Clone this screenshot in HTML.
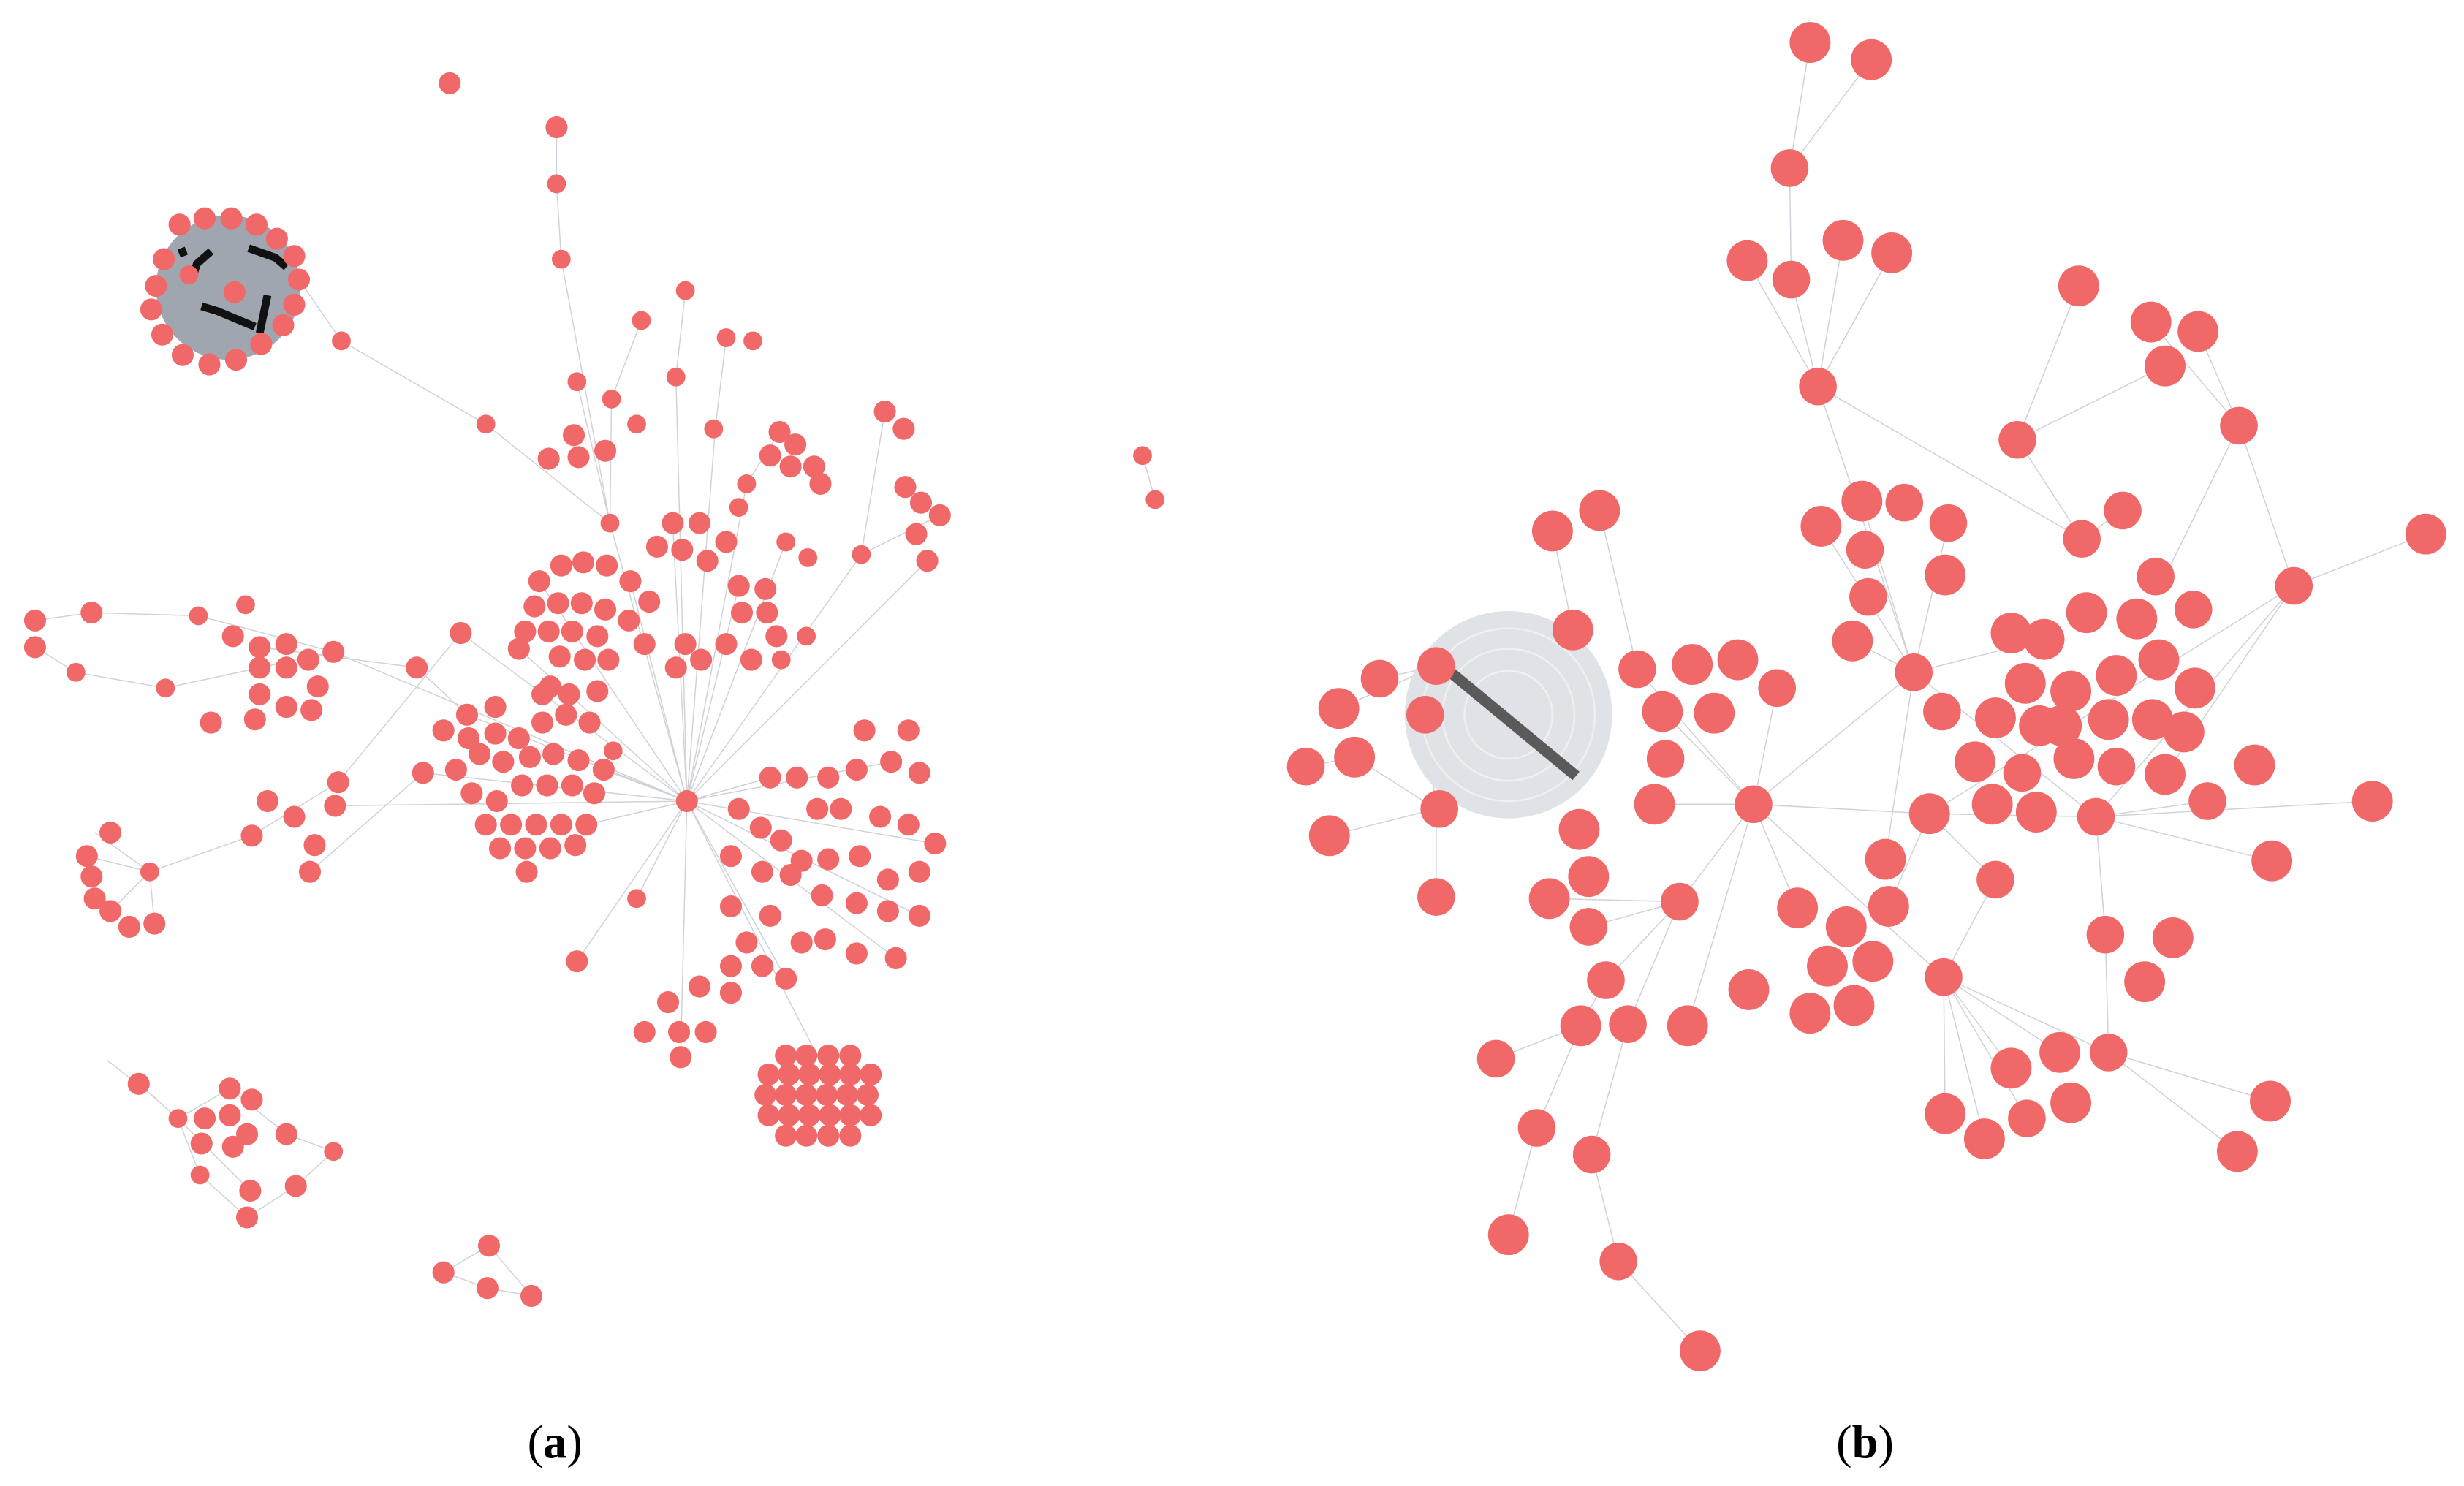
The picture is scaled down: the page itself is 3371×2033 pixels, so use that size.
<!DOCTYPE html>
<html><head><meta charset="utf-8"><style>
html,body{margin:0;padding:0;background:#fff;}
svg{display:block;}
</style></head><body>
<svg width="3371" height="2033" viewBox="0 0 1568 946" xmlns="http://www.w3.org/2000/svg">
<g stroke="#cfd2d8" stroke-width="0.7" fill="none">
<path d="M437,510 L388,333 M437,510 L343,370 M437,510 L401,370 M437,510 L428,333 M437,510 L470,373 M437,510 L500,345 M437,510 L548,353 M437,510 L590,357 M437,510 L297,455 M437,510 L269,492 M437,510 L212,415 M437,510 L213,513 M437,510 L490,495 M437,510 L567,485 M437,510 L595,537 M437,510 L585,583 M437,510 L570,610 M437,510 L520,672 M437,510 L500,623 M437,510 L433,673 M437,510 L405,572 M437,510 L367,612 M437,510 L330,413 M437,510 L293,403 M437,510 L384,490 M437,510 L373,525"/>
<path d="M354,81 L354,117 L357,165 L388,333 M217,217 L309,270 L388,333 M436,185 L430,240 L437,510 M408,204 L389,254 L388,333 M462,215 L455,273 L437,510 M563,262 L548,353 M598,328 L548,353 M496,275 L475,308 L437,510 M367,243 L388,333 M190,178 L217,217"/>
<path d="M22,395 L58,390 L126,392 L212,415 M22,412 L48,428 L105,438 L212,415 M60,530 L95,555 L160,532 L215,498 L293,403 M95,555 L55,545 M95,555 L98,588 M95,555 L70,580 M165,412 L265,425 L297,455 M197,555 L269,492"/>
<path d="M88,690 L113,712 L146,693 L182,722 L212,733 M113,712 L127,748 L157,775 L188,755 L212,733 M113,712 L159,758 M68,675 L100,700 M311,793 L282,810 L310,820 L338,825 L311,793 M727,290 L735,318"/>
<path d="M1152,27 L1139,107 M1191,38 L1139,107 L1140,178 L1157,246 M1112,166 L1157,246 M1173,153 L1157,246 M1204,161 L1157,246 L1218,428 M1157,246 L1325,343 M1323,182 L1284,280 L1325,343 M1369,205 L1425,271 M1399,211 L1425,271 L1378,367 M1378,233 L1284,280 M1425,271 L1460,373 M1544,340 L1460,373 L1334,520 M1460,373 L1378,493 M1460,373 L1228,518"/>
<path d="M1218,428 L1116,512 L1069,574 L1022,624 L1006,653 L978,718 L960,786 M1069,574 L1036,652 L1013,735 L1030,803 L1082,860 M1116,512 L1058,453 M1116,512 L1053,512 M1116,512 L1228,518 L1334,520 M1116,512 L1144,578 M1116,512 L1237,622 M1116,512 L1042,426 M1218,428 L1159,335 M1218,428 L1185,319 M1218,428 L1240,333 M1218,428 L1179,408 M1218,428 L1334,520 M1218,428 L1301,407 M1237,622 L1270,560 L1228,518 M1237,622 L1311,670 M1237,622 L1280,680 M1237,622 L1238,709 M1237,622 L1263,725 M1237,622 L1290,712 M1237,622 L1342,670 M1334,520 L1340,595 L1342,670 L1424,733 M1342,670 L1445,701 M1334,520 L1446,548 M1334,520 L1510,510 M1334,520 L1405,510 M1228,518 L1202,577 M1069,574 L1011,590 M1069,574 L986,572 M952,674 L1006,653 M1116,512 L1074,653 M1218,428 L1200,547 M1325,343 L1351,325 M1116,512 L1131,438"/>
<path d="M914,424 L878,432 M914,424 L907,455 L914,515 M914,515 L862,482 M914,515 L846,532 M914,515 L914,571 M914,424 L852,451 M831,488 L862,482 M988,338 L1001,401 M1018,325 L1042,426"/>
</g>
<circle cx="145" cy="183" r="46" fill="#a0a6b0"/>
<path d="M117,163 L115,158 M134,160 L125,168 L122,178 M158,158 L175,164 L182,170 M128,195 L138,198 L162,208 M170,188 L165,212" stroke="#111" stroke-width="5" fill="none"/>
<circle cx="960" cy="455" r="66" fill="#dfe2e6"/>
<g fill="none" stroke="#eef0f2" stroke-width="1.2"><circle cx="960" cy="455" r="55"/><circle cx="960" cy="455" r="42"/><circle cx="960" cy="455" r="28"/></g>
<path d="M922,427 L1003,494" stroke="#5a5a5a" stroke-width="7"/>
<g fill="#f06868">
<circle cx="286" cy="53" r="7"/><circle cx="354" cy="81" r="7"/><circle cx="354" cy="117" r="6"/><circle cx="357" cy="165" r="6"/>
<circle cx="114" cy="143" r="7"/><circle cx="130" cy="139" r="7"/><circle cx="147" cy="139" r="7"/><circle cx="163" cy="143" r="7"/><circle cx="176" cy="152" r="7"/><circle cx="187" cy="163" r="7"/><circle cx="190" cy="178" r="7"/><circle cx="187" cy="194" r="7"/><circle cx="180" cy="207" r="7"/><circle cx="166" cy="219" r="7"/><circle cx="150" cy="229" r="7"/><circle cx="133" cy="232" r="7"/><circle cx="116" cy="226" r="7"/><circle cx="103" cy="213" r="7"/><circle cx="96" cy="197" r="7"/><circle cx="99" cy="182" r="7"/><circle cx="104" cy="165" r="7"/><circle cx="149" cy="186" r="7"/><circle cx="120" cy="175" r="6"/>
<circle cx="217" cy="217" r="6"/><circle cx="309" cy="270" r="6"/><circle cx="436" cy="185" r="6"/><circle cx="408" cy="204" r="6"/><circle cx="462" cy="215" r="6"/><circle cx="479" cy="217" r="6"/><circle cx="367" cy="243" r="6"/><circle cx="389" cy="254" r="6"/><circle cx="405" cy="270" r="6"/><circle cx="430" cy="240" r="6"/><circle cx="454" cy="273" r="6"/><circle cx="365" cy="277" r="7"/><circle cx="349" cy="292" r="7"/><circle cx="368" cy="291" r="7"/><circle cx="385" cy="287" r="7"/><circle cx="496" cy="275" r="7"/><circle cx="506" cy="283" r="7"/><circle cx="490" cy="290" r="7"/><circle cx="503" cy="297" r="7"/><circle cx="518" cy="297" r="7"/><circle cx="522" cy="308" r="7"/><circle cx="563" cy="262" r="7"/><circle cx="575" cy="273" r="7"/><circle cx="576" cy="310" r="7"/><circle cx="586" cy="320" r="7"/><circle cx="583" cy="340" r="7"/><circle cx="598" cy="328" r="7"/><circle cx="590" cy="357" r="7"/><circle cx="548" cy="353" r="6"/><circle cx="475" cy="308" r="6"/><circle cx="470" cy="323" r="6"/><circle cx="388" cy="333" r="6"/>
<circle cx="343" cy="370" r="7"/><circle cx="357" cy="360" r="7"/><circle cx="371" cy="358" r="7"/><circle cx="386" cy="360" r="7"/><circle cx="401" cy="370" r="7"/><circle cx="413" cy="383" r="7"/><circle cx="340" cy="386" r="7"/><circle cx="355" cy="384" r="7"/><circle cx="370" cy="384" r="7"/><circle cx="385" cy="388" r="7"/><circle cx="400" cy="395" r="7"/><circle cx="334" cy="402" r="7"/><circle cx="349" cy="402" r="7"/><circle cx="364" cy="402" r="7"/><circle cx="380" cy="405" r="7"/><circle cx="356" cy="418" r="7"/><circle cx="372" cy="420" r="7"/><circle cx="387" cy="420" r="7"/><circle cx="350" cy="437" r="7"/><circle cx="330" cy="413" r="7"/><circle cx="410" cy="410" r="7"/>
<circle cx="428" cy="333" r="7"/><circle cx="445" cy="333" r="7"/><circle cx="462" cy="345" r="7"/><circle cx="418" cy="348" r="7"/><circle cx="434" cy="350" r="7"/><circle cx="450" cy="357" r="7"/><circle cx="470" cy="373" r="7"/><circle cx="487" cy="375" r="7"/><circle cx="472" cy="390" r="7"/><circle cx="488" cy="390" r="7"/><circle cx="494" cy="405" r="7"/><circle cx="478" cy="420" r="7"/><circle cx="462" cy="410" r="7"/><circle cx="436" cy="410" r="7"/><circle cx="430" cy="425" r="7"/><circle cx="446" cy="420" r="7"/><circle cx="500" cy="345" r="6"/><circle cx="514" cy="355" r="6"/><circle cx="513" cy="405" r="6"/><circle cx="497" cy="420" r="6"/>
<circle cx="297" cy="455" r="7"/><circle cx="315" cy="450" r="7"/><circle cx="282" cy="465" r="7"/><circle cx="298" cy="470" r="7"/><circle cx="315" cy="467" r="7"/><circle cx="330" cy="470" r="7"/><circle cx="345" cy="460" r="7"/><circle cx="360" cy="455" r="7"/><circle cx="375" cy="460" r="7"/><circle cx="345" cy="442" r="7"/><circle cx="362" cy="442" r="7"/><circle cx="380" cy="440" r="7"/><circle cx="269" cy="492" r="7"/><circle cx="290" cy="490" r="7"/><circle cx="305" cy="480" r="7"/><circle cx="320" cy="485" r="7"/><circle cx="337" cy="482" r="7"/><circle cx="352" cy="480" r="7"/><circle cx="368" cy="484" r="7"/><circle cx="384" cy="490" r="7"/><circle cx="300" cy="505" r="7"/><circle cx="316" cy="510" r="7"/><circle cx="332" cy="500" r="7"/><circle cx="348" cy="500" r="7"/><circle cx="364" cy="500" r="7"/><circle cx="378" cy="505" r="7"/><circle cx="309" cy="525" r="7"/><circle cx="325" cy="525" r="7"/><circle cx="341" cy="525" r="7"/><circle cx="357" cy="525" r="7"/><circle cx="373" cy="525" r="7"/><circle cx="318" cy="540" r="7"/><circle cx="334" cy="540" r="7"/><circle cx="350" cy="540" r="7"/><circle cx="366" cy="538" r="7"/><circle cx="335" cy="555" r="7"/><circle cx="390" cy="478" r="6"/>
<circle cx="437" cy="510" r="7"/>
<circle cx="490" cy="495" r="7"/><circle cx="507" cy="495" r="7"/><circle cx="527" cy="495" r="7"/><circle cx="545" cy="490" r="7"/><circle cx="567" cy="485" r="7"/><circle cx="585" cy="492" r="7"/><circle cx="550" cy="465" r="7"/><circle cx="578" cy="465" r="7"/><circle cx="520" cy="515" r="7"/><circle cx="535" cy="515" r="7"/><circle cx="560" cy="520" r="7"/><circle cx="578" cy="525" r="7"/><circle cx="595" cy="537" r="7"/><circle cx="470" cy="515" r="7"/><circle cx="484" cy="527" r="7"/><circle cx="497" cy="535" r="7"/><circle cx="510" cy="548" r="7"/><circle cx="527" cy="547" r="7"/><circle cx="547" cy="545" r="7"/><circle cx="565" cy="560" r="7"/><circle cx="585" cy="555" r="7"/><circle cx="465" cy="545" r="7"/><circle cx="485" cy="555" r="7"/><circle cx="503" cy="557" r="7"/><circle cx="523" cy="570" r="7"/><circle cx="545" cy="575" r="7"/><circle cx="565" cy="580" r="7"/><circle cx="585" cy="583" r="7"/><circle cx="465" cy="577" r="7"/><circle cx="490" cy="583" r="7"/><circle cx="510" cy="600" r="7"/><circle cx="525" cy="598" r="7"/><circle cx="545" cy="607" r="7"/><circle cx="570" cy="610" r="7"/><circle cx="475" cy="600" r="7"/><circle cx="465" cy="615" r="7"/><circle cx="485" cy="615" r="7"/><circle cx="500" cy="623" r="7"/><circle cx="465" cy="632" r="7"/><circle cx="445" cy="628" r="7"/><circle cx="425" cy="638" r="7"/><circle cx="410" cy="657" r="7"/><circle cx="432" cy="657" r="7"/><circle cx="449" cy="657" r="7"/><circle cx="433" cy="673" r="7"/><circle cx="367" cy="612" r="7"/><circle cx="405" cy="572" r="6"/>
<circle cx="500" cy="672" r="7"/><circle cx="513" cy="672" r="7"/><circle cx="527" cy="672" r="7"/><circle cx="541" cy="672" r="7"/>
<circle cx="489" cy="684" r="7"/><circle cx="502" cy="684" r="7"/><circle cx="515" cy="684" r="7"/><circle cx="528" cy="684" r="7"/><circle cx="541" cy="684" r="7"/><circle cx="554" cy="684" r="7"/>
<circle cx="487" cy="697" r="7"/><circle cx="500" cy="697" r="7"/><circle cx="513" cy="697" r="7"/><circle cx="526" cy="697" r="7"/><circle cx="539" cy="697" r="7"/><circle cx="552" cy="697" r="7"/>
<circle cx="489" cy="710" r="7"/><circle cx="502" cy="710" r="7"/><circle cx="515" cy="710" r="7"/><circle cx="528" cy="710" r="7"/><circle cx="541" cy="710" r="7"/><circle cx="554" cy="710" r="7"/>
<circle cx="500" cy="723" r="7"/><circle cx="513" cy="723" r="7"/><circle cx="527" cy="723" r="7"/><circle cx="541" cy="723" r="7"/>
<circle cx="22" cy="395" r="7"/><circle cx="22" cy="412" r="7"/><circle cx="58" cy="390" r="7"/><circle cx="48" cy="428" r="6"/><circle cx="126" cy="392" r="6"/><circle cx="156" cy="385" r="6"/><circle cx="148" cy="405" r="7"/><circle cx="165" cy="412" r="7"/><circle cx="182" cy="410" r="7"/><circle cx="165" cy="425" r="7"/><circle cx="182" cy="425" r="7"/><circle cx="196" cy="420" r="7"/><circle cx="212" cy="415" r="7"/><circle cx="202" cy="437" r="7"/><circle cx="165" cy="442" r="7"/><circle cx="182" cy="450" r="7"/><circle cx="198" cy="452" r="7"/><circle cx="162" cy="458" r="7"/><circle cx="134" cy="460" r="7"/><circle cx="105" cy="438" r="6"/><circle cx="265" cy="425" r="7"/><circle cx="293" cy="403" r="7"/>
<circle cx="70" cy="530" r="7"/><circle cx="55" cy="545" r="7"/><circle cx="58" cy="558" r="7"/><circle cx="60" cy="572" r="7"/><circle cx="70" cy="580" r="7"/><circle cx="82" cy="590" r="7"/><circle cx="98" cy="588" r="7"/><circle cx="95" cy="555" r="6"/><circle cx="160" cy="532" r="7"/><circle cx="170" cy="510" r="7"/><circle cx="187" cy="520" r="7"/><circle cx="197" cy="555" r="7"/><circle cx="200" cy="538" r="7"/><circle cx="215" cy="498" r="7"/><circle cx="213" cy="513" r="7"/>
<circle cx="88" cy="690" r="7"/><circle cx="113" cy="712" r="6"/><circle cx="130" cy="712" r="7"/><circle cx="146" cy="693" r="7"/><circle cx="160" cy="700" r="7"/><circle cx="146" cy="710" r="7"/><circle cx="157" cy="722" r="7"/><circle cx="128" cy="728" r="7"/><circle cx="148" cy="730" r="7"/><circle cx="182" cy="722" r="7"/><circle cx="212" cy="733" r="6"/><circle cx="127" cy="748" r="6"/><circle cx="159" cy="758" r="7"/><circle cx="188" cy="755" r="7"/><circle cx="157" cy="775" r="7"/>
<circle cx="311" cy="793" r="7"/><circle cx="282" cy="810" r="7"/><circle cx="310" cy="820" r="7"/><circle cx="338" cy="825" r="7"/>
<circle cx="727" cy="290" r="6"/><circle cx="735" cy="318" r="6"/>
<circle cx="1152" cy="27" r="13"/><circle cx="1191" cy="38" r="13"/><circle cx="1139" cy="107" r="12"/><circle cx="1112" cy="166" r="13"/><circle cx="1140" cy="178" r="12"/><circle cx="1173" cy="153" r="13"/><circle cx="1204" cy="161" r="13"/><circle cx="1157" cy="246" r="12"/><circle cx="1323" cy="182" r="13"/><circle cx="1369" cy="205" r="13"/><circle cx="1399" cy="211" r="13"/><circle cx="1378" cy="233" r="13"/><circle cx="1284" cy="280" r="12"/><circle cx="1425" cy="271" r="12"/><circle cx="1325" cy="343" r="12"/><circle cx="1351" cy="325" r="12"/><circle cx="988" cy="338" r="13"/><circle cx="1018" cy="325" r="13"/><circle cx="1159" cy="335" r="13"/><circle cx="1185" cy="319" r="13"/><circle cx="1212" cy="320" r="12"/><circle cx="1240" cy="333" r="12"/><circle cx="1187" cy="350" r="12"/><circle cx="1238" cy="366" r="13"/><circle cx="1189" cy="380" r="12"/><circle cx="1179" cy="408" r="13"/><circle cx="1372" cy="367" r="12"/><circle cx="1396" cy="388" r="12"/><circle cx="1460" cy="373" r="12"/><circle cx="1544" cy="340" r="13"/><circle cx="1328" cy="390" r="13"/><circle cx="1360" cy="394" r="13"/><circle cx="1301" cy="407" r="13"/><circle cx="1280" cy="403" r="13"/><circle cx="1218" cy="428" r="12"/><circle cx="1236" cy="453" r="12"/><circle cx="1289" cy="435" r="13"/><circle cx="1318" cy="440" r="13"/><circle cx="1347" cy="430" r="13"/><circle cx="1374" cy="420" r="13"/><circle cx="1397" cy="438" r="13"/><circle cx="1390" cy="466" r="13"/><circle cx="1370" cy="458" r="13"/><circle cx="1342" cy="458" r="13"/><circle cx="1312" cy="462" r="13"/><circle cx="1298" cy="462" r="13"/><circle cx="1270" cy="457" r="13"/><circle cx="1257" cy="485" r="13"/><circle cx="1287" cy="492" r="12"/><circle cx="1320" cy="483" r="13"/><circle cx="1347" cy="488" r="12"/><circle cx="1378" cy="493" r="13"/><circle cx="1405" cy="510" r="12"/><circle cx="1435" cy="487" r="13"/><circle cx="1510" cy="510" r="13"/><circle cx="1446" cy="548" r="13"/><circle cx="1228" cy="518" r="13"/><circle cx="1268" cy="512" r="13"/><circle cx="1296" cy="517" r="13"/><circle cx="1334" cy="520" r="12"/><circle cx="1200" cy="547" r="13"/><circle cx="1270" cy="560" r="12"/><circle cx="1202" cy="577" r="13"/><circle cx="1144" cy="578" r="13"/><circle cx="1175" cy="590" r="13"/><circle cx="1163" cy="615" r="13"/><circle cx="1192" cy="612" r="13"/><circle cx="1152" cy="645" r="13"/><circle cx="1180" cy="640" r="13"/><circle cx="1113" cy="630" r="13"/><circle cx="1074" cy="653" r="13"/><circle cx="1237" cy="622" r="12"/><circle cx="1340" cy="595" r="12"/><circle cx="1383" cy="597" r="13"/><circle cx="1365" cy="625" r="13"/><circle cx="1342" cy="670" r="12"/><circle cx="1311" cy="670" r="13"/><circle cx="1280" cy="680" r="13"/><circle cx="1318" cy="702" r="13"/><circle cx="1290" cy="712" r="12"/><circle cx="1263" cy="725" r="13"/><circle cx="1238" cy="709" r="13"/><circle cx="1445" cy="701" r="13"/><circle cx="1424" cy="733" r="13"/>
<circle cx="1001" cy="401" r="13"/><circle cx="1042" cy="426" r="12"/><circle cx="1077" cy="423" r="13"/><circle cx="1106" cy="420" r="13"/><circle cx="1131" cy="438" r="12"/><circle cx="1058" cy="453" r="13"/><circle cx="1091" cy="454" r="13"/><circle cx="1060" cy="483" r="12"/><circle cx="1053" cy="512" r="13"/><circle cx="1116" cy="512" r="12"/><circle cx="1005" cy="528" r="13"/><circle cx="1011" cy="558" r="13"/><circle cx="986" cy="572" r="13"/><circle cx="1011" cy="590" r="12"/><circle cx="1069" cy="574" r="12"/><circle cx="914" cy="424" r="12"/><circle cx="878" cy="432" r="12"/><circle cx="852" cy="451" r="13"/><circle cx="862" cy="482" r="13"/><circle cx="831" cy="488" r="12"/><circle cx="846" cy="532" r="13"/><circle cx="907" cy="455" r="12"/><circle cx="916" cy="515" r="12"/><circle cx="914" cy="571" r="12"/><circle cx="1022" cy="624" r="12"/><circle cx="1036" cy="652" r="12"/><circle cx="1006" cy="653" r="13"/><circle cx="952" cy="674" r="12"/><circle cx="978" cy="718" r="12"/><circle cx="1013" cy="735" r="12"/><circle cx="960" cy="786" r="13"/><circle cx="1030" cy="803" r="12"/><circle cx="1082" cy="860" r="13"/>
</g>
<text x="353" y="928" text-anchor="middle" font-family="Liberation Serif, serif" font-size="30" fill="#000">(<tspan font-weight="bold">a</tspan>)</text>
<text x="1187" y="928" text-anchor="middle" font-family="Liberation Serif, serif" font-size="30" fill="#000">(<tspan font-weight="bold">b</tspan>)</text>
</svg>
</body></html>
